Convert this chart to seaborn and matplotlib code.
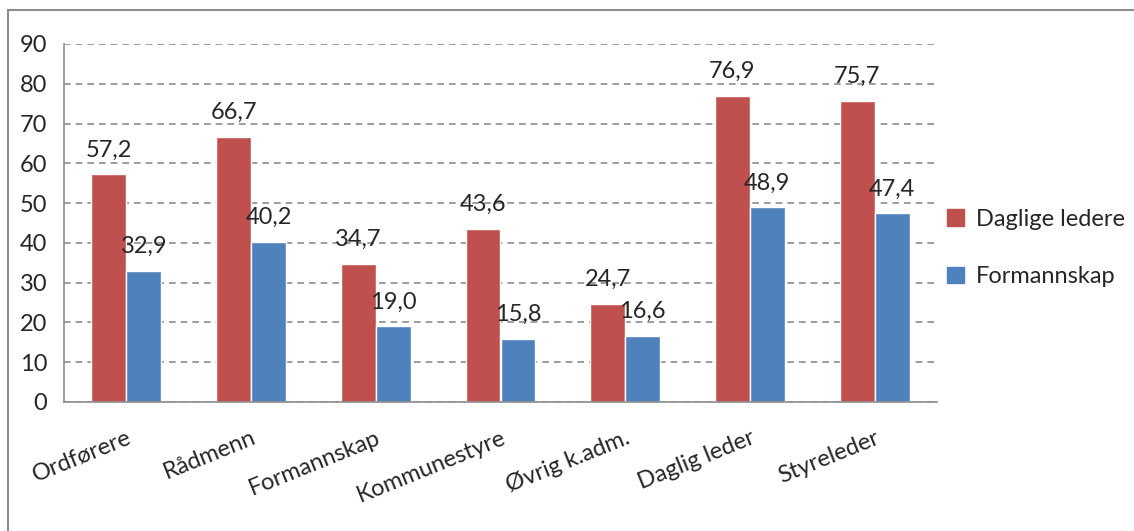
import matplotlib.pyplot as plt
import numpy as np
import pandas as pd
import seaborn as sns
from matplotlib.lines import Line2D

categories = ["Ordførere", "Rådmenn", "Formannskap", "Kommunestyre",
              "Øvrig k.adm.", "Daglig leder", "Styreleder"]
daglige_ledere = [57.2, 66.7, 34.7, 43.6, 24.7, 76.9, 75.7]
formannskap = [32.9, 40.2, 19.0, 15.8, 16.6, 48.9, 47.4]
series_names = ["Daglige ledere", "Formannskap"]
colors = ["#C0504D", "#4F81BD"]

df = pd.DataFrame({
    "kategori": categories * 2,
    "verdi": daglige_ledere + formannskap,
    "serie": [series_names[0]] * len(categories) + [series_names[1]] * len(categories),
})

sns.set_style("white")
plt.rcParams['font.family'] = ['Lato', 'DejaVu Sans']
fs = 17

fig = plt.figure(figsize=(11.34, 5.31), dpi=100)
ax = fig.add_axes([64 / 1134, 1 - 402 / 531, (937 - 64) / 1134, (402 - 44) / 531])

sns.barplot(data=df, x="kategori", y="verdi", hue="serie", palette=colors,
            width=0.56, saturation=1, ax=ax, legend=True)

ax.set_ylim(0, 90)
ax.set_xlim(-0.5, len(categories) - 0.5)
ax.set_yticks(np.arange(0, 91, 10))
ax.yaxis.grid(True, linestyle=(0, (4, 3)), color="#8c8c8c", linewidth=1.2)
ax.set_axisbelow(True)
ax.set_xlabel("")
ax.set_ylabel("")

for side in ["top", "right"]:
    ax.spines[side].set_visible(False)
for side in ["left", "bottom"]:
    ax.spines[side].set_color("#8c8c8c")
    ax.spines[side].set_linewidth(1.2)

# ticks between categories on x, outward ticks on y
ax.set_xticks(np.arange(-0.5, len(categories), 1), minor=True)
ax.tick_params(axis="x", which="minor", length=7, color="#8c8c8c", width=1.2, direction="out")
ax.set_xticks(np.arange(len(categories)))
ax.set_xticklabels(categories, rotation=22, ha="right", rotation_mode="anchor", fontsize=fs)
ax.tick_params(axis="x", which="major", length=0, pad=18)
ax.tick_params(axis="y", length=7, color="#8c8c8c", width=1.2, direction="out", labelsize=fs, pad=5)

# value labels
for cont in ax.containers:
    ax.bar_label(cont, labels=[f"{v:.1f}".replace(".", ",") for v in cont.datavalues],
                 padding=10, fontsize=fs)

ax.get_legend().remove()
handles = [plt.Rectangle((0, 0), 1, 1, color=c) for c in colors]
fig.legend(handles, series_names, loc="center left", bbox_to_anchor=(926 / 1134, 1 - 248 / 531),
           frameon=False, fontsize=fs, handlelength=0.7, handleheight=0.7,
           handletextpad=0.5, labelspacing=1.55)

# outer chart frame
fig.add_artist(Line2D([8 / 1134, 8 / 1134], [0, 1 - 10 / 531], color="#8c8c8c", lw=1.5))
fig.add_artist(Line2D([8 / 1134, 1], [1 - 10 / 531, 1 - 10 / 531], color="#8c8c8c", lw=1.5))

fig.savefig("out.png", dpi=100)
